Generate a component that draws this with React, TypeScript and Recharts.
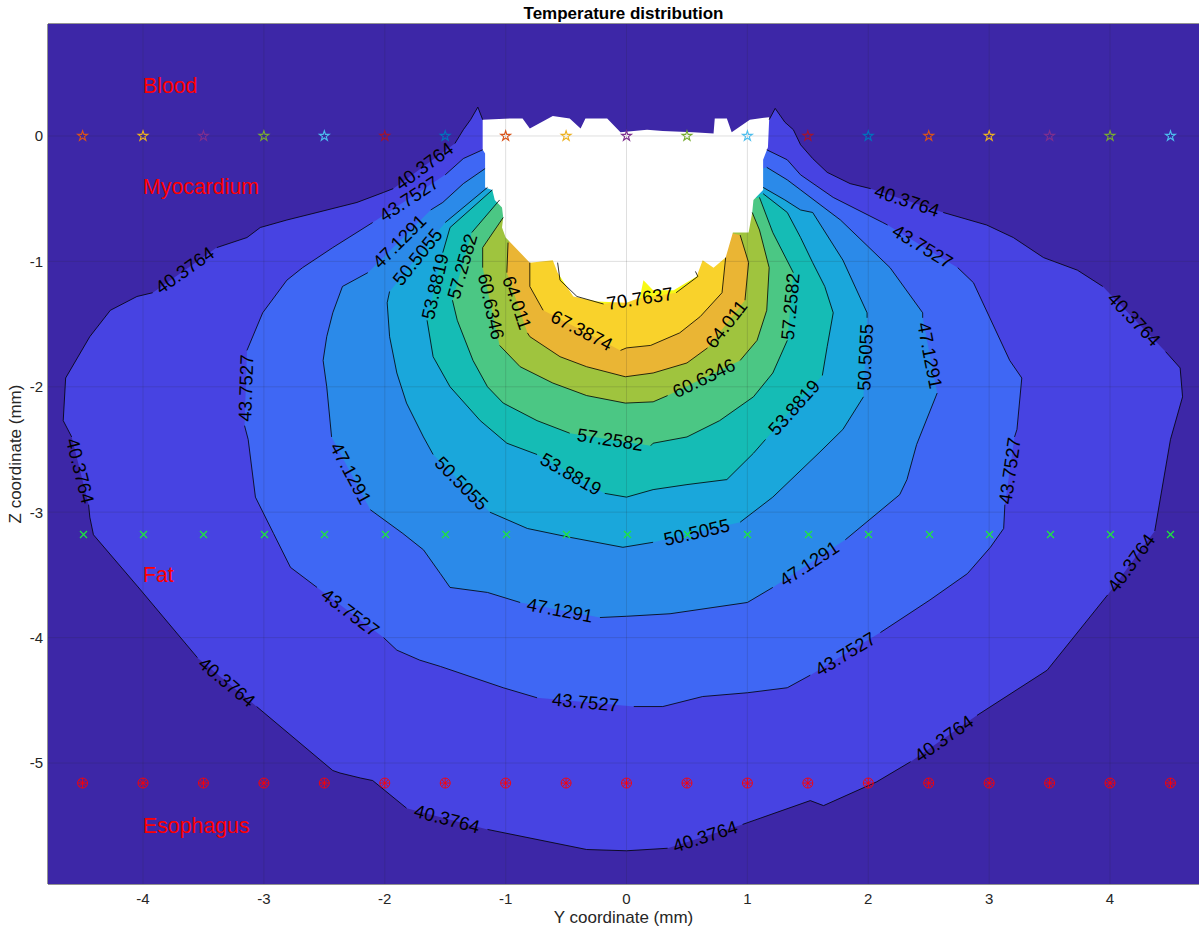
import React from 'react';
import { ComposedChart, Scatter, XAxis, YAxis } from 'recharts';

type Pt = [number, number] | null;

// ---------- layout ----------
const CHART_W = 1209;
const CHART_H = 931;
const PLOT_L = 48;
const PLOT_R = 1199;
const PLOT_T = 24;
const PLOT_B = 884;

// ---------- axes ----------
const X_DOMAIN: [number, number] = [-4.786, 4.736];
const Z_DOMAIN: [number, number] = [-5.965, 0.893];
const X_TICKS = [-4, -3, -2, -1, 0, 1, 2, 3, 4];
const Z_TICKS = [-5, -4, -3, -2, -1, 0];

// ---------- contour levels & band colours ----------
const LEVELS = [40.3764, 43.7527, 47.1291, 50.5055, 53.8819, 57.2582, 60.6346, 64.011, 67.3874, 70.7637];
const BAND_COLORS = ['#3D27A7', '#4743E2', '#3F67F4', '#2B8AE9', '#1AA7DB', '#15BCB5', '#4BC784', '#9FC43E', '#EAB534', '#F9D22B', '#F8F915'];

// contour polylines (y, z); null = gap where the label sits
const C40: Pt[] = [
  [-1.19, 0.13], [-1.23, 0.23], [-1.29, 0.13], [-1.35, 0.05], [-1.42, -0.06], null,
  [-1.93, -0.42], [-2.01, -0.45], [-2.23, -0.53], [-2.56, -0.61], [-2.81, -0.67], [-3.03, -0.73], [-3.14, -0.81], [-3.39, -0.89], null,
  [-3.92, -1.25], [-4.05, -1.28], [-4.27, -1.39], [-4.44, -1.6], [-4.64, -1.93], [-4.66, -2.27], [-4.59, -2.4], null,
  [-4.45, -2.94], [-4.44, -3.04], [-4.41, -3.18], [-4.02, -3.62], [-3.55, -4.16], null,
  [-3.06, -4.55], [-2.43, -5.06], [-2.37, -5.08], [-2.2, -5.12], [-2.1, -5.14], [-1.82, -5.36], null,
  [-1.15, -5.53], [-0.33, -5.69], [0.0, -5.7], [0.34, -5.68], null,
  [0.96, -5.49], [1.52, -5.3], [1.63, -5.34], [2.07, -5.15], [2.35, -4.99], null,
  [2.9, -4.62], [3.48, -4.26], [3.98, -3.66], null,
  [4.37, -3.15], [4.5, -2.42], [4.6, -2.08], [4.58, -1.85], [4.46, -1.72], null,
  [3.94, -1.2], [3.73, -1.07], [3.45, -0.97], [3.2, -0.81], [2.98, -0.71], [2.62, -0.61], null,
  [2.02, -0.42], [1.85, -0.38], [1.66, -0.29], [1.54, -0.18], [1.44, -0.07], [1.38, 0.05], [1.31, 0.11], [1.23, 0.22], [1.18, 0.13],
];
const C43: Pt[] = [
  [-1.19, -0.11], [-1.35, -0.18], [-1.5, -0.31], null,
  [-2.1, -0.69], [-2.43, -0.89], [-2.68, -1.05], [-2.81, -1.15], [-3.01, -1.41], [-3.14, -1.71], null,
  [-3.16, -2.31], [-3.13, -2.42], [-3.07, -2.88], [-2.92, -3.17], [-2.78, -3.44], [-2.56, -3.6], null,
  [-2.01, -4.0], [-1.9, -4.1], [-1.71, -4.18], [-1.54, -4.23], [-1.02, -4.4], [-0.74, -4.48], null,
  [0.06, -4.55], [0.3, -4.55], [0.63, -4.47], [1.0, -4.44], [1.33, -4.4], [1.52, -4.3], null,
  [2.1, -3.96], [2.51, -3.7], [2.82, -3.49], [3.01, -3.28], [3.12, -3.13], [3.13, -2.94], null,
  [3.21, -2.4], [3.23, -2.34], [3.27, -1.93], [3.17, -1.79], [2.87, -1.17], [2.74, -1.05], null,
  [2.16, -0.71], [2.12, -0.69], [1.71, -0.49], [1.44, -0.31], [1.33, -0.19], [1.16, -0.11],
];
const C47: Pt[] = [
  [-1.17, -0.26], [-1.35, -0.38], [-1.52, -0.53], [-1.62, -0.59], null,
  [-2.14, -1.09], [-2.35, -1.2], [-2.43, -1.41], [-2.48, -1.6], [-2.51, -1.79], [-2.48, -2.0], [-2.44, -2.4], null,
  [-2.12, -2.98], [-1.85, -3.17], [-1.68, -3.3], [-1.54, -3.49], [-1.46, -3.6], [-1.15, -3.64], [-0.88, -3.72], null,
  [-0.22, -3.84], [0.0, -3.83], [0.36, -3.81], [1.0, -3.72], [1.21, -3.6], null,
  [1.81, -3.22], [2.26, -2.86], [2.32, -2.74], [2.4, -2.46], [2.57, -2.05], null,
  [2.45, -1.45], [2.45, -1.41], [2.18, -1.05], [1.77, -0.67], [1.44, -0.43], [1.33, -0.35], [1.16, -0.25],
];
const C50: Pt[] = [
  [-1.15, -0.41], [-1.5, -0.69], null,
  [-1.96, -1.24], [-1.98, -1.33], [-1.96, -1.6], [-1.9, -1.89], [-1.82, -2.13], [-1.68, -2.4], [-1.6, -2.54], null,
  [-1.13, -3.0], [-0.82, -3.13], [-0.47, -3.2], [-0.03, -3.28], [0.22, -3.24], null,
  [0.94, -3.08], [1.21, -2.88], [1.6, -2.52], [1.79, -2.34], [1.96, -2.08], null,
  [1.99, -1.45], [1.99, -1.41], [1.79, -0.99], [1.54, -0.61], [1.44, -0.59], [1.31, -0.51], [1.13, -0.41],
];
const C53: Pt[] = [
  [-1.11, -0.43], [-1.46, -0.73], [-1.52, -0.93], null,
  [-1.65, -1.47], [-1.6, -1.76], [-1.46, -2.0], [-1.21, -2.27], [-0.99, -2.45], [-0.74, -2.54], null,
  [-0.18, -2.85], [0.0, -2.88], [0.22, -2.82], [0.5, -2.78], [0.83, -2.74], [1.05, -2.53], [1.15, -2.42], null,
  [1.62, -1.91], [1.66, -1.68], [1.71, -1.41], [1.64, -1.2], [1.54, -1.01], [1.44, -0.81], [1.33, -0.61], [1.13, -0.46],
];
const C57: Pt[] = [
  [-1.05, -0.51], [-1.28, -0.77], null,
  [-1.44, -1.31], [-1.4, -1.47], [-1.27, -1.79], [-1.15, -2.0], [-1.02, -2.13], [-0.74, -2.27], [-0.47, -2.37], null,
  [0.2, -2.47], [0.22, -2.45], [0.5, -2.4], [0.77, -2.27], [1.05, -2.08], [1.21, -1.89], [1.33, -1.63], null,
  [1.38, -1.09], [1.21, -0.77], [1.1, -0.49],
];
const C60: Pt[] = [
  [-1.02, -0.65], [-1.19, -0.89], [-1.19, -1.05], null,
  [-1.05, -1.67], [-0.88, -1.84], [-0.61, -1.97], [-0.33, -2.07], [-0.01, -2.13], [0.22, -2.12], [0.34, -2.07], null,
  [0.94, -1.79], [1.08, -1.63], [1.16, -1.39], [1.18, -1.05], [1.1, -0.75], [1.04, -0.61],
];
const C64: Pt[] = [
  [-0.98, -0.85], [-0.99, -1.09], null,
  [-0.82, -1.57], [-0.8, -1.6], [-0.55, -1.76], [-0.33, -1.84], [-0.01, -1.92], [0.22, -1.89], [0.5, -1.81], [0.67, -1.69], null,
  [0.98, -1.31], [1.01, -1.01], [0.94, -0.79],
];
const C67: Pt[] = [
  [-0.8, -1.01], [-0.8, -1.2], [-0.69, -1.39], null,
  [-0.05, -1.71], [0.0, -1.69], [0.2, -1.67], [0.44, -1.57], [0.61, -1.44], [0.79, -1.25], [0.82, -0.97],
];
const C70: Pt[] = [
  [-0.57, -1.01], [-0.55, -1.15], [-0.41, -1.28], [-0.19, -1.34], null,
  [0.41, -1.25], [0.59, -1.12], [0.57, -1.08],
];
const CONTOURS = [C40, C43, C47, C50, C53, C57, C60, C64, C67, C70];

// electrode / NaN hole (white)
const HOLE: [number, number][] = [
  [-1.19, 0.13], [-0.96, 0.14], [-0.86, 0.14], [-0.8, 0.06], [-0.61, 0.16], [-0.47, 0.14], [-0.38, 0.06], [-0.34, 0.14],
  [-0.16, 0.14], [-0.05, 0.03], [0.17, 0.05], [0.3, 0.04], [0.55, 0.03], [0.72, 0.02], [0.73, 0.14], [0.83, 0.14],
  [0.87, 0.03], [1.02, 0.13], [1.18, 0.15], [1.18, 0.13], [1.17, -0.09], [1.13, -0.19], [1.13, -0.43], [1.05, -0.51],
  [1.04, -0.61], [1.01, -0.77], [0.88, -0.77], [0.82, -0.97], [0.72, -1.05], [0.63, -0.99], [0.58, -1.12], [0.39, -1.23],
  [0.22, -1.23], [0.14, -1.15], [0.11, -1.29], [0.0, -1.33], [-0.24, -1.32], [-0.44, -1.28], [-0.57, -1.09], [-0.61, -0.99],
  [-0.8, -1.01], [-1.0, -0.81], [-1.03, -0.73], [-1.02, -0.65], [-1.03, -0.57], [-1.09, -0.51], [-1.11, -0.43],
  [-1.17, -0.41], [-1.17, -0.14], [-1.19, -0.11],
];
const HOLE_INSIDE: [number, number] = [0, -0.6];

// markers
const MARKER_Y = [-4.5, -4, -3.5, -3, -2.5, -2, -1.5, -1, -0.5, 0, 0.5, 1, 1.5, 2, 2.5, 3, 3.5, 4, 4.5];
const STAR_Z = 0;
const CROSS_Z = -3.17;
const CIRCLE_Z = -5.16;
const COLOR_ORDER = ['#0072BD', '#D95319', '#EDB120', '#7E2F8E', '#77AC30', '#4DBEEE', '#A2142F'];

// tissue names
const TISSUE_NAMES = ['Blood', 'Myocardium', 'Fat', 'Esophagus'];
const TISSUE_Y = [-4, -4, -4, -4];
const TISSUE_Z = [0.4, -0.4, -3.5, -5.5];

// ---------- derived ----------
const PX_PER_X = (PLOT_R - PLOT_L) / (X_DOMAIN[1] - X_DOMAIN[0]);
const PX_PER_Z = (PLOT_B - PLOT_T) / (Z_DOMAIN[1] - Z_DOMAIN[0]);

const fillData = (c: Pt[]) => {
  const pts = c.filter((p): p is [number, number] => p !== null).map(([x, z]) => ({ x, z }));
  pts.push({ x: HOLE_INSIDE[0], z: HOLE_INSIDE[1] });
  return pts;
};
const strokeData = (c: Pt[]) => c.map((p) => (p ? { x: p[0], z: p[1] } : { x: null as any, z: null as any }));

const LABELS: { x: number; z: number; text: string; ang: number }[] = [];
CONTOURS.forEach((c, li) => {
  for (let i = 0; i < c.length; i++) {
    if (c[i] === null) {
      const a = c[i - 1] as [number, number];
      const b = c[i + 1] as [number, number];
      const dx = (b[0] - a[0]) * PX_PER_X;
      const dy = -(b[1] - a[1]) * PX_PER_Z;
      let ang = (Math.atan2(dy, dx) * 180) / Math.PI;
      if (ang > 90) ang -= 180;
      if (ang < -90) ang += 180;
      LABELS.push({ x: (a[0] + b[0]) / 2, z: (a[1] + b[1]) / 2, text: String(LEVELS[li]), ang });
    }
  }
});

const BG_RECT = [
  { x: X_DOMAIN[0], z: Z_DOMAIN[0] },
  { x: X_DOMAIN[1], z: Z_DOMAIN[0] },
  { x: X_DOMAIN[1], z: Z_DOMAIN[1] },
  { x: X_DOMAIN[0], z: Z_DOMAIN[1] },
];
const GRID_LINES = [
  ...X_TICKS.map((t) => [{ x: t, z: Z_DOMAIN[0] }, { x: t, z: Z_DOMAIN[1] }]),
  ...Z_TICKS.map((t) => [{ x: X_DOMAIN[0], z: t }, { x: X_DOMAIN[1], z: t }]),
];

const starData = MARKER_Y.map((y, i) => ({ x: y, z: STAR_Z, i }));
const crossData = MARKER_Y.map((y) => ({ x: y, z: CROSS_Z }));
const circData = MARKER_Y.map((y) => ({ x: y, z: CIRCLE_Z }));
const tissueData = TISSUE_NAMES.map((t, i) => ({ x: TISSUE_Y[i], z: TISSUE_Z[i], t }));

// ---------- shapes ----------
const Empty = () => <g />;

const ContourLabel = (p: any) => {
  const { cx, cy, payload } = p;
  if (cx == null || cy == null) return <g />;
  return (
    <text x={cx} y={cy} dy="0.35em" textAnchor="middle" fontSize={18.5} fill="#000"
      transform={`rotate(${payload.ang} ${cx} ${cy})`}>{payload.text}</text>
  );
};

const StarShape = (p: any) => {
  const { cx, cy, payload } = p;
  const R = 5.2;
  const r = R * 0.382;
  const pts: string[] = [];
  for (let k = 0; k < 10; k++) {
    const a = ((-90 + k * 36) * Math.PI) / 180;
    const rr = k % 2 === 0 ? R : r;
    pts.push(`${cx + rr * Math.cos(a)},${cy + rr * Math.sin(a)}`);
  }
  const color = COLOR_ORDER[(payload.i + 1) % COLOR_ORDER.length];
  return <polygon points={pts.join(' ')} fill="none" stroke={color} strokeWidth={1.1} />;
};

const CrossShape = (p: any) => {
  const { cx, cy } = p;
  const s = 3.5;
  const x = Math.round(cx) + 0.5;
  const y = Math.round(cy) + 0.5;
  return (
    <g stroke="#1EE63E" strokeWidth={1.2}>
      <line x1={x - s} y1={y - s} x2={x + s} y2={y + s} />
      <line x1={x - s} y1={y + s} x2={x + s} y2={y - s} />
    </g>
  );
};

const CircAstShape = (p: any) => {
  const { cx, cy } = p;
  const r = 5;
  const d = r * 0.7071;
  return (
    <g stroke="#ff0000" strokeWidth={0.9} fill="none">
      <circle cx={cx} cy={cy} r={r} />
      <line x1={cx - r} y1={cy} x2={cx + r} y2={cy} />
      <line x1={cx} y1={cy - r} x2={cx} y2={cy + r} />
      <line x1={cx - d} y1={cy - d} x2={cx + d} y2={cy + d} />
      <line x1={cx - d} y1={cy + d} x2={cx + d} y2={cy - d} />
    </g>
  );
};

const TissueText = (p: any) => {
  const { cx, cy, payload } = p;
  return (
    <text x={cx} y={cy} dy="0.35em" textAnchor="start" fontSize={21.3} fill="#ff0000">{payload.t}</text>
  );
};

const FONT = '"Liberation Sans", Arial, Helvetica, sans-serif';

export default function App() {
  return (
    <div style={{ position: 'absolute', left: 0, top: 0, width: 1199, height: 931, overflow: 'hidden', background: '#fff', fontFamily: FONT }}>
      <ComposedChart width={CHART_W} height={CHART_H} margin={{ top: 0, right: 0, bottom: 0, left: 0 }}>
        {/* background band */}
        <Scatter data={BG_RECT} line={{ fill: BAND_COLORS[0], stroke: 'none' }} shape={Empty} isAnimationActive={false} />
        {/* filled bands */}
        {CONTOURS.map((c, i) => (
          <Scatter key={'f' + i} data={fillData(c)} line={{ fill: BAND_COLORS[i + 1], stroke: 'none' }} shape={Empty} isAnimationActive={false} />
        ))}
        {/* hole */}
        <Scatter data={HOLE.map(([x, z]) => ({ x, z }))} line={{ fill: '#ffffff', stroke: 'none' }} shape={Empty} isAnimationActive={false} />
        {/* contour lines */}
        {CONTOURS.map((c, i) => (
          <Scatter key={'s' + i} data={strokeData(c)} line={{ stroke: '#000000', strokeWidth: 0.8, fill: 'none' }} shape={Empty} isAnimationActive={false} />
        ))}
        {/* contour labels */}
        <Scatter data={LABELS} shape={ContourLabel} isAnimationActive={false} />
        {/* grid */}
        {GRID_LINES.map((g, i) => (
          <Scatter key={'g' + i} data={g} line={{ stroke: '#262626', strokeOpacity: 0.15, strokeWidth: 1, fill: 'none' }} shape={Empty} isAnimationActive={false} />
        ))}
        {/* markers */}
        <Scatter data={starData} shape={StarShape} isAnimationActive={false} />
        <Scatter data={crossData} shape={CrossShape} isAnimationActive={false} />
        <Scatter data={circData} shape={CircAstShape} isAnimationActive={false} />
        <Scatter data={tissueData} shape={TissueText} isAnimationActive={false} />

        <XAxis dataKey="x" type="number" domain={X_DOMAIN} ticks={X_TICKS} allowDataOverflow interval={0}
          height={CHART_H - PLOT_B} tickSize={-11} tickMargin={20} stroke="#262626"
          tick={{ fill: '#262626', fontSize: 15 }} />
        <XAxis xAxisId="top" orientation="top" dataKey="x" type="number" domain={X_DOMAIN} ticks={X_TICKS} allowDataOverflow interval={0}
          height={PLOT_T} tickSize={-11} tick={false} stroke="#262626" />
        <YAxis dataKey="z" type="number" domain={Z_DOMAIN} ticks={Z_TICKS} allowDataOverflow interval={0}
          width={PLOT_L} tickSize={-11} tickMargin={16} stroke="#262626"
          tick={{ fill: '#262626', fontSize: 15 }} />
        <YAxis yAxisId="right" orientation="right" dataKey="z" type="number" domain={Z_DOMAIN} ticks={Z_TICKS} allowDataOverflow interval={0}
          width={CHART_W - PLOT_R} tickSize={-11} tick={false} stroke="#262626" />
      </ComposedChart>
      <div style={{ position: 'absolute', left: PLOT_L, width: PLOT_R - PLOT_L, top: 4.6, height: 18, lineHeight: '18px', textAlign: 'center', fontWeight: 'bold', fontSize: 17, color: '#000' }}>
        Temperature distribution
      </div>
      <div style={{ position: 'absolute', left: PLOT_L, width: PLOT_R - PLOT_L, top: 909, height: 18, lineHeight: '18px', textAlign: 'center', fontSize: 17, color: '#262626' }}>
        Y coordinate (mm)
      </div>
      <div style={{ position: 'absolute', left: 15.8 - 100, width: 200, top: (PLOT_T + PLOT_B) / 2 - 9, height: 18, lineHeight: '18px', textAlign: 'center', fontSize: 17, color: '#262626', transform: 'rotate(-90deg)' }}>
        Z coordinate (mm)
      </div>
    </div>
  );
}
